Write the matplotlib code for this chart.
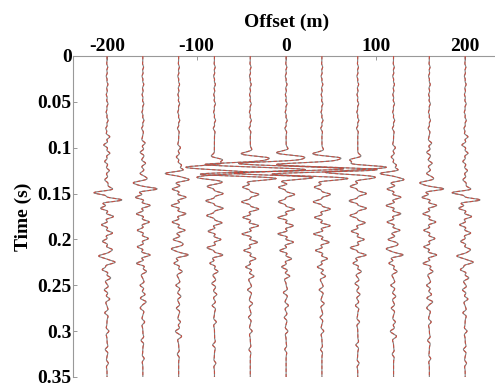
import numpy as np
import matplotlib
matplotlib.use("Agg")
import matplotlib.pyplot as plt

# ---- data ----
offsets = [-200, -160, -120, -80, -40, 0, 40, 80, 120, 160, 200]
x_ticks = [-200, -100, 0, 100, 200]
y_ticks = [0, 0.05, 0.1, 0.15, 0.2, 0.25, 0.3, 0.35]
y_tick_labels = ["0", "0.05", "0.1", "0.15", "0.2", "0.25", "0.3", "0.35"]

# small ripples seen on every trace before the first arrival (s, m)
early_t = [0.012, 0.022, 0.031, 0.042, 0.052, 0.061, 0.070, 0.079]
early_a = [0.8, -0.9, 1.0, -0.8, 1.1, -1.0, 1.2, -1.3]

# event arrival times (s) and amplitudes (m of offset) for each trace
ev_t_m200 = [0.088, 0.097, 0.106, 0.115, 0.125, 0.135, 0.149, 0.157, 0.166, 0.175, 0.184, 0.193, 0.202, 0.211, 0.218, 0.225, 0.233, 0.242, 0.255, 0.265, 0.280, 0.300, 0.320, 0.335]
ev_a_m200 = [3, -3.5, 3, -2.5, 2.5, -2.5, -14, 16, -7, 7, -6, 6, -5, 5, -8, 8, -5, 4, -3, 3, -2.5, 2, -2, 1.5]
ev_t_m160 = [0.095, 0.105, 0.117, 0.128, 0.138, 0.145, 0.154, 0.163, 0.172, 0.181, 0.190, 0.199, 0.208, 0.217, 0.226, 0.235, 0.250, 0.260, 0.268, 0.275, 0.290, 0.310, 0.330]
ev_a_m160 = [2.5, -3, 3, -3, -9, 15, -8, 8, -7, 7, -6, 6, -6, 8, -7, 4, -3, 2.5, 3.5, -2.5, 2, -2, 1.5]
ev_t_m120 = [0.100, 0.110, 0.119, 0.128, 0.135, 0.145, 0.154, 0.163, 0.172, 0.181, 0.190, 0.200, 0.210, 0.217, 0.226, 0.235, 0.250, 0.262, 0.275, 0.290, 0.300, 0.306, 0.325]
ev_a_m120 = [2, -2.5, 3, -14, 10, -7, 8, -8, 8, -7, 7, -6, -7, 10, -5, 4, -3, 2.5, -2.5, 2, -3, 2.5, -1.5]
ev_t_m80 = [0.113, 0.121, 0.127, 0.133, 0.142, 0.150, 0.158, 0.166, 0.174, 0.182, 0.191, 0.200, 0.209, 0.217, 0.226, 0.235, 0.248, 0.260, 0.272, 0.290, 0.315, 0.335]
ev_a_m80 = [8, -25, 28, -12, -8, 9, -9, 9, -8, 8, -7, 7, -8, 9, -5, 4, -3, 2.5, -2.5, 2, -2, 1.5]
ev_t_m40 = [0.106, 0.111, 0.118, 0.124, 0.129, 0.134, 0.143, 0.151, 0.159, 0.167, 0.176, 0.185, 0.194, 0.203, 0.212, 0.221, 0.230, 0.240, 0.255, 0.270, 0.285, 0.300, 0.320]
ev_a_m40 = [-4, 15, -40, 40, -35, 15, -8, 9, -9, 9, -8, 9, -9, 8, -7, 6, -5, 4, -3, 2.5, -2, 2, -1.5]
ev_t_0 = [0.105, 0.110, 0.117, 0.123, 0.128, 0.133, 0.143, 0.151, 0.159, 0.167, 0.176, 0.185, 0.194, 0.203, 0.212, 0.221, 0.230, 0.240, 0.258, 0.272, 0.285, 0.300, 0.320]
ev_a_0 = [-5, 14, -42, 42, -36, 16, -8, 9, -8, 9, -9, 8, -9, 8, -7, 6, -5, 4, -3, 2.5, -2, 2, -1.5]
ev_t_p40 = [0.106, 0.111, 0.118, 0.124, 0.129, 0.134, 0.143, 0.151, 0.159, 0.167, 0.176, 0.185, 0.194, 0.203, 0.212, 0.221, 0.230, 0.240, 0.255, 0.270, 0.285, 0.300, 0.320]
ev_a_p40 = [-4, 15, -40, 40, -35, 15, -8, 9, -9, 9, -8, 9, -9, 8, -7, 6, -5, 4, -3, 2.5, -2, 2, -1.5]
ev_t_p80 = [0.113, 0.121, 0.127, 0.133, 0.142, 0.150, 0.158, 0.166, 0.174, 0.182, 0.191, 0.200, 0.209, 0.217, 0.226, 0.235, 0.248, 0.260, 0.272, 0.290, 0.315, 0.335]
ev_a_p80 = [-8, 25, -28, 12, -8, 9, -9, 9, -8, 8, -7, 7, -8, 9, -5, 4, -3, 2.5, -2.5, 2, -2, 1.5]
ev_t_p120 = [0.100, 0.110, 0.119, 0.128, 0.135, 0.145, 0.154, 0.163, 0.172, 0.181, 0.190, 0.200, 0.210, 0.217, 0.226, 0.235, 0.250, 0.262, 0.275, 0.290, 0.300, 0.306, 0.325]
ev_a_p120 = [2, -2.5, 3, -14, 10, -7, 8, -8, 8, -7, 7, -6, -7, 10, -5, 4, -3, 2.5, -2.5, 2, -3, 2.5, -1.5]
ev_t_p160 = [0.095, 0.105, 0.117, 0.128, 0.138, 0.145, 0.154, 0.163, 0.172, 0.181, 0.190, 0.199, 0.208, 0.217, 0.226, 0.235, 0.250, 0.260, 0.268, 0.275, 0.290, 0.310, 0.330]
ev_a_p160 = [2.5, -3, 3, -3, -9, 15, -8, 8, -7, 7, -6, 6, -6, 8, -7, 4, -3, 2.5, 3.5, -2.5, 2, -2, 1.5]
ev_t_p200 = [0.088, 0.097, 0.106, 0.115, 0.125, 0.135, 0.149, 0.157, 0.166, 0.175, 0.184, 0.193, 0.202, 0.211, 0.218, 0.225, 0.233, 0.242, 0.255, 0.265, 0.280, 0.300, 0.320, 0.335]
ev_a_p200 = [3, -3.5, 3, -2.5, 2.5, -2.5, -14, 16, -7, 7, -6, 6, -5, 5, -8, 8, -5, 4, -3, 3, -2.5, 2, -2, 1.5]

event_times = [ev_t_m200, ev_t_m160, ev_t_m120, ev_t_m80, ev_t_m40, ev_t_0,
               ev_t_p40, ev_t_p80, ev_t_p120, ev_t_p160, ev_t_p200]
event_amps = [ev_a_m200, ev_a_m160, ev_a_m120, ev_a_m80, ev_a_m40, ev_a_0,
              ev_a_p40, ev_a_p80, ev_a_p120, ev_a_p160, ev_a_p200]

# ---- rendering ----
t = np.arange(0.0, 0.3501, 0.0004)
f0 = 95.0


def trace_from_events(times, amps):
    s = np.zeros_like(t)
    for tc, a in zip(list(early_t) + list(times), list(early_a) + list(amps)):
        arg = (np.pi * f0 * (t - tc)) ** 2
        s += a * (1 - 2 * arg) * np.exp(-arg)
    return s


plt.rcParams["font.family"] = ["Liberation Serif", "DejaVu Serif"]
plt.rcParams["font.weight"] = "bold"

fig = plt.figure(figsize=(4.95, 3.85), dpi=100)
ax = fig.add_axes([73 / 495, 1 - 377 / 385, (501 - 73) / 495, (377 - 56) / 385])

for off, tt, aa in zip(offsets, event_times, event_amps):
    s = trace_from_events(tt, aa)
    ax.plot(off + s, t, color="#555555", lw=0.8, alpha=0.75, zorder=2)
    ax.plot(off + s, t, color="#d0483a", lw=0.8, ls=(0, (3, 2)), alpha=0.85, zorder=3)

ax.set_xlim(-238, 240)
ax.set_ylim(0.35, 0)
ax.xaxis.set_ticks_position("top")
ax.xaxis.set_label_position("top")
ax.set_xticks(x_ticks)
ax.set_xticklabels([str(v) for v in x_ticks])
ax.set_yticks(y_ticks)
ax.set_yticklabels(y_tick_labels)
ax.tick_params(direction="in", length=3, width=0.6, colors="#888888",
               labelcolor="black", labelsize=14, pad=1)
for side in ("right", "bottom"):
    ax.spines[side].set_visible(False)
for side in ("left", "top"):
    ax.spines[side].set_color("#999999")
    ax.spines[side].set_linewidth(0.8)
ax.set_xlabel("Offset (m)", fontsize=14, fontweight="bold", labelpad=8)
ax.set_ylabel("Time (s)", fontsize=14, fontweight="bold", labelpad=4)

fig.savefig("out.png", dpi=100)
